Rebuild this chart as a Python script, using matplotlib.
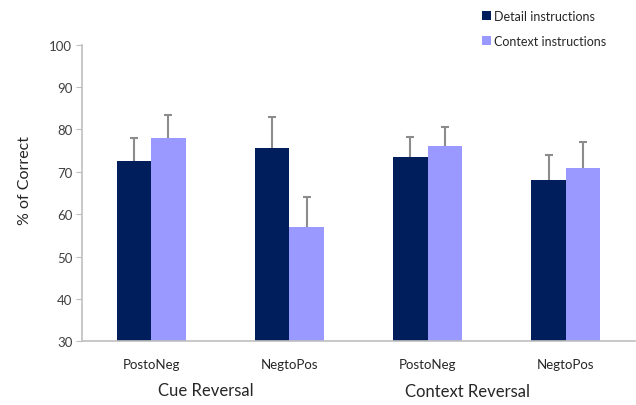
import matplotlib
matplotlib.use("Agg")
import matplotlib.pyplot as plt
import numpy as np

categories = ["PostoNeg", "NegtoPos", "PostoNeg", "NegtoPos"]
groups = ["Cue Reversal", "Context Reversal"]
series_names = ["Detail instructions", "Context instructions"]
detail_vals = [72.5, 75.7, 73.5, 68.0]
detail_err = [5.5, 7.2, 4.8, 6.0]
context_vals = [77.9, 57.0, 76.0, 71.0]
context_err = [5.4, 7.0, 4.5, 6.0]
yticks = [30, 40, 50, 60, 70, 80, 90, 100]

plt.rcParams['font.family'] = ['Lato', 'DejaVu Sans']

fig = plt.figure(figsize=(6.36, 4.06), dpi=100)
ax = fig.add_axes([82/636, 1 - 342.3/406, 553/636, (342.3 - 45.7)/406])

x = np.arange(len(categories))
w = 0.25
dark = "#001E5C"
light = "#9999FF"
errc = "#8C8C8C"

ax.bar(x - w/2, detail_vals, width=w, color=dark, label=series_names[0], zorder=2)
ax.bar(x + w/2, context_vals, width=w, color=light, label=series_names[1], zorder=2)

for xs, vals, errs in [(x - w/2, detail_vals, detail_err), (x + w/2, context_vals, context_err)]:
    vals = np.asarray(vals)
    tops = vals + np.asarray(errs)
    ax.vlines(xs, vals, tops, colors=errc, linewidth=1.5, zorder=1)
    ax.plot(xs, tops, linestyle='none', marker='_', markersize=6, markeredgewidth=1.5,
            color=errc, zorder=1)

ax.set_xlim(-0.5, 3.5)
ax.set_ylim(30, 100)
ax.set_yticks(yticks)
ax.set_xticks(x)
ax.set_xticklabels(categories)
for s in ["top", "right"]:
    ax.spines[s].set_visible(False)
for s in ["left", "bottom"]:
    ax.spines[s].set_color("#BFBFBF")
    ax.spines[s].set_linewidth(1.2)
ax.tick_params(axis='y', length=4, color="#BFBFBF", labelsize=9.5, labelcolor="#404040", pad=3)
ax.tick_params(axis='x', length=0, labelsize=9.5, labelcolor="#262626", pad=12)

fig.text(25/636, 1 - 181/406, "% of Correct", rotation=90, ha='center', va='center',
         fontsize=11.5, color="#262626")
fig.text(206/636, 1 - 391/406, groups[0], ha='center', va='center', fontsize=12, color="#262626")
fig.text(468/636, 1 - 392/406, groups[1], ha='center', va='center', fontsize=12, color="#262626")

leg = fig.legend(loc='upper left', bbox_to_anchor=(477/636, 1 - 6/406), frameon=False,
                 fontsize=9, handlelength=0.7, handleheight=0.7, handletextpad=0.3,
                 labelspacing=1.05, borderaxespad=0)
for t in leg.get_texts():
    t.set_color("#262626")

fig.savefig("out.png", dpi=100)
